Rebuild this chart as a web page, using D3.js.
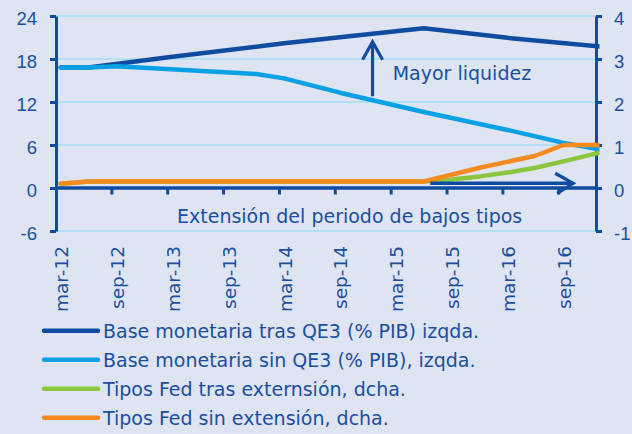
<!DOCTYPE html>
<html><head><meta charset="utf-8">
<script src="https://cdn.jsdelivr.net/npm/d3@7"></script>
<style>
html,body{margin:0;padding:0;background:#dee4f2;}
svg{display:block;font-family:"DejaVu Sans",sans-serif;}
</style></head>
<body><svg id="c" width="632" height="434"></svg>
<script>
// ---- data ----
const xTickLabels = ["mar-12","sep-12","mar-13","sep-13","mar-14","sep-14","mar-15","sep-15","mar-16","sep-16"];
const leftTicks = [-6, 0, 6, 12, 18, 24];
const rightTicks = [-1, 0, 1, 2, 3, 4];
const baseTrasQE3 = [["mar-12",16.8],["jun-12",16.8],["mar-13",18.3],["mar-14",20.2],["jun-15",22.3],["mar-16",20.95],["ene-17",19.75]];
const baseSinQE3 = [["mar-12",16.8],["jun-12",16.8],["sep-12",17.0],["dic-13",15.9],["mar-14",15.3],["sep-14",13.3],["jun-15",10.6],["mar-16",8.1],["sep-16",6.3],["ene-17",5.35]];
const tiposTras = [["mar-12",0.10],["jun-12",0.15],["jun-15",0.15],["sep-15",0.20],["dic-15",0.27],["mar-16",0.36],["jun-16",0.47],["sep-16",0.62],["ene-17",0.83]];
const tiposSin = [["mar-12",0.10],["jun-12",0.15],["jun-15",0.15],["dic-15",0.47],["jun-16",0.75],["sep-16",1.0],["ene-17",1.0]];
const legendLabels = ["Base monetaria tras QE3 (% PIB) izqda.","Base monetaria sin QE3 (% PIB), izqda.","Tipos Fed tras externsión, dcha.","Tipos Fed sin extensión, dcha."];
const colors = ["#0f4c9f","#0aa0e4","#8cc63e","#f58a1f"];

// ---- helpers ----
const mon = {ene:0,feb:1,mar:2,abr:3,may:4,jun:5,jul:6,ago:7,sep:8,oct:9,nov:10,dic:11};
function mi(s){const [m,y]=s.split("-");return (2000 + +y - 2012)*12 + mon[m] - 2;}

const W=632,H=434;
const axisColor="#0f4c9f", textColor="#1a4f9f", gridColor="#b4e0f6";
const svg=d3.select("#c");
svg.append("rect").attr("width",W).attr("height",H).attr("fill","#dee4f2");

const x=d3.scaleLinear().domain([-0.5,57.5]).range([56,596]);
const yL=d3.scaleLinear().domain([-6,24]).range([231,16]);
const yR=d3.scaleLinear().domain([-1,4]).range([231,16]);
const fmt=d=>String(d);

// gridlines
svg.append("g").selectAll("line").data(leftTicks.filter(d=>d!==0)).join("line")
  .attr("x1",x(-0.5)).attr("x2",x(57.5)).attr("y1",d=>yL(d)).attr("y2",d=>yL(d))
  .attr("stroke",gridColor).attr("stroke-width",2);

// left axis
const gl=svg.append("g").attr("transform",`translate(${x(-0.5)},0)`)
  .call(d3.axisLeft(yL).tickValues(leftTicks).tickFormat(fmt).tickSize(6).tickSizeOuter(0).tickPadding(13));
// right axis
const gr=svg.append("g").attr("transform",`translate(${x(57.5)},0)`)
  .call(d3.axisRight(yR).tickValues(rightTicks).tickFormat(fmt).tickSize(6).tickSizeOuter(0).tickPadding(12));
[gl,gr].forEach(g=>{
  g.select(".domain").attr("stroke",axisColor).attr("stroke-width",3);
  g.selectAll(".tick line").attr("stroke",axisColor).attr("stroke-width",3);
  g.selectAll(".tick text").attr("fill",textColor).attr("font-size","18.5px").attr("dy","8.2");
});

// x axis (category axis at 0)
const xb=svg.append("g");
xb.append("line").attr("x1",x(-0.5)).attr("x2",x(57.5)).attr("y1",yL(0)).attr("y2",yL(0))
  .attr("stroke",axisColor).attr("stroke-width",3.5);
xb.selectAll("line.t").data(d3.range(1,10)).join("line").attr("class","t")
  .attr("x1",k=>x(k*6-0.5)).attr("x2",k=>x(k*6-0.5)).attr("y1",yL(0)).attr("y2",yL(0)+6.5)
  .attr("stroke",axisColor).attr("stroke-width",3);
svg.append("g").selectAll("text").data(xTickLabels).join("text")
  .attr("transform",d=>`translate(${x(mi(d))+7.5},246) rotate(-90)`)
  .attr("text-anchor","end").attr("fill",textColor).attr("font-size","18.5px").text(d=>d);

// series
svg.append("clipPath").attr("id","clip").append("rect").attr("x",50).attr("y",0).attr("width",549.5).attr("height",H);
const lineL=d3.line().x(d=>x(mi(d[0]))).y(d=>yL(d[1]));
const lineR=d3.line().x(d=>x(mi(d[0]))).y(d=>yR(d[1]));
const series=[[baseTrasQE3,lineL,colors[0]],[baseSinQE3,lineL,colors[1]],[tiposTras,lineR,colors[2]],[tiposSin,lineR,colors[3]]];
const gs=svg.append("g").attr("clip-path","url(#clip)");
series.forEach(([d,l,c])=>{
  gs.append("path").attr("d",l(d)).attr("fill","none").attr("stroke",c)
    .attr("stroke-width",4.5).attr("stroke-linecap","round").attr("stroke-linejoin","round");
});

// annotations
const ann=svg.append("g").attr("stroke",axisColor).attr("fill","none").attr("stroke-width",3.2).attr("stroke-linecap","butt");
// up arrow "Mayor liquidez"
const ux=x(33.5), uy0=yL(12.8), uy1=yL(20.4);
ann.append("line").attr("x1",ux).attr("x2",ux).attr("y1",uy0).attr("y2",uy1+1);
ann.append("path").attr("d",`M${ux-10},${uy1+18}L${ux},${uy1}L${ux+10},${uy1+18}`);
// right arrow "Extension"
const ry=yR(0.11), rx0=x(39.7), rx1=x(55.05);
ann.append("line").attr("x1",rx0).attr("x2",rx1-1).attr("y1",ry).attr("y2",ry).attr("stroke-width",3.5);
ann.append("path").attr("d",`M${rx1-18},${ry-10}L${rx1},${ry}L${rx1-16},${ry+10}`);

svg.append("text").attr("x",392.7).attr("y",80).attr("fill",textColor).attr("font-size","19px").text("Mayor liquidez");
svg.append("text").attr("x",177).attr("y",223).attr("fill",textColor).attr("font-size","19px").text("Extensión del periodo de bajos tipos");

// legend
const lg=svg.append("g").selectAll("g").data(legendLabels).join("g")
  .attr("transform",(d,i)=>`translate(0,${330.7+i*29})`);
lg.append("line").attr("x1",44).attr("x2",98).attr("stroke",(d,i)=>colors[i])
  .attr("stroke-width",4.5).attr("stroke-linecap","round");
lg.append("text").attr("x",103).attr("y",7).attr("fill",textColor).attr("font-size","19px").text(d=>d);
</script></body></html>
